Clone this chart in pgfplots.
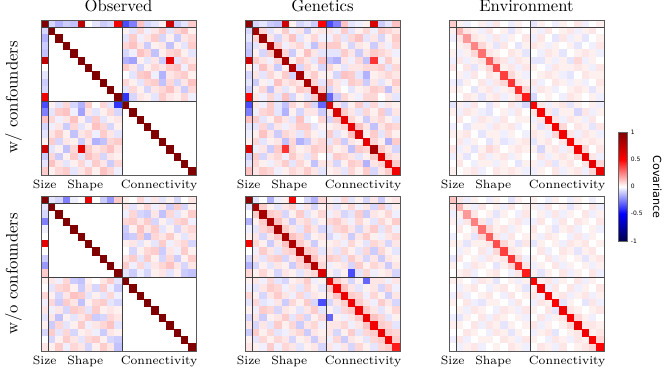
\documentclass[border=0pt]{standalone}
\usepackage{pgfplots}
\pgfplotsset{compat=1.18}
\usepackage{pgfplotstable}
\usepackage{fontspec}
\newfontfamily\dejavu{DejaVu Sans}

% covariance matrices, in percent (-100..100)
% index 0 = size, 1-10 = shape, 11-20 = connectivity
% only the lower triangle is read, the upper half is mirrored from it
\pgfplotstableread[header=false]{
100 0 0 0 0 0 0 0 0 0 0 0 0 0 0 0 0 0 0 0 0
-8 100 0 0 0 0 0 0 0 0 0 0 0 0 0 0 0 0 0 0 0
-15 0 100 0 0 0 0 0 0 0 0 0 0 0 0 0 0 0 0 0 0
-10 0 0 100 0 0 0 0 0 0 0 0 0 0 0 0 0 0 0 0 0
-12 0 0 0 100 0 0 0 0 0 0 0 0 0 0 0 0 0 0 0 0
75 0 0 0 0 100 0 0 0 0 0 0 0 0 0 0 0 0 0 0 0
0 0 0 0 0 0 100 0 0 0 0 0 0 0 0 0 0 0 0 0 0
-5 0 0 0 0 0 0 100 0 0 0 0 0 0 0 0 0 0 0 0 0
-10 0 0 0 0 0 0 0 100 0 0 0 0 0 0 0 0 0 0 0 0
-8 0 0 0 0 0 0 0 0 100 0 0 0 0 0 0 0 0 0 0 0
55 0 0 0 0 0 0 0 0 0 100 0 0 0 0 0 0 0 0 0 0
-35 3 -5 8 -8 -15 10 0 8 -5 -40 100 0 0 0 0 0 0 0 0 0
-25 -5 10 12 -3 -18 5 -5 3 8 -8 0 100 0 0 0 0 0 0 0 0
12 8 -3 5 12 3 -8 10 -5 3 5 0 0 100 0 0 0 0 0 0 0
-8 -3 5 -10 8 -5 3 12 8 -8 3 0 0 0 100 0 0 0 0 0 0
-5 5 10 3 -12 5 8 -3 10 5 -5 0 0 0 0 100 0 0 0 0 0
3 10 -8 5 3 -10 5 -15 -12 8 10 0 0 0 0 0 100 0 0 0 0
70 -5 3 -12 8 60 10 5 8 12 5 0 0 0 0 0 0 100 0 0 0
-10 8 -10 3 10 -5 12 8 -8 5 3 0 0 0 0 0 0 0 100 0 0
-5 12 5 -5 3 8 -3 10 5 -10 8 0 0 0 0 0 0 0 0 100 0
10 3 8 10 -5 5 10 3 12 8 -3 0 0 0 0 0 0 0 0 0 100
}\obsA

\pgfplotstableread[header=false]{
95 0 0 0 0 0 0 0 0 0 0 0 0 0 0 0 0 0 0 0 0
-8 85 0 0 0 0 0 0 0 0 0 0 0 0 0 0 0 0 0 0 0
-5 8 88 0 0 0 0 0 0 0 0 0 0 0 0 0 0 0 0 0 0
-10 -5 5 82 0 0 0 0 0 0 0 0 0 0 0 0 0 0 0 0 0
-12 3 -8 10 86 0 0 0 0 0 0 0 0 0 0 0 0 0 0 0 0
70 10 5 -3 8 84 0 0 0 0 0 0 0 0 0 0 0 0 0 0 0
3 -3 12 5 -10 3 80 0 0 0 0 0 0 0 0 0 0 0 0 0 0
-8 5 -5 8 3 10 -8 85 0 0 0 0 0 0 0 0 0 0 0 0 0
-5 -10 3 -3 12 5 8 5 83 0 0 0 0 0 0 0 0 0 0 0 0
-10 3 8 -12 5 -5 3 10 8 78 0 0 0 0 0 0 0 0 0 0 0
50 5 -3 8 -5 12 -8 3 -5 10 80 0 0 0 0 0 0 0 0 0 0
-35 5 -3 10 -5 -12 8 3 10 -8 -30 62 0 0 0 0 0 0 0 0 0
-25 -3 8 10 -5 -15 3 -8 5 5 -10 5 65 0 0 0 0 0 0 0 0
12 10 -5 3 10 5 -5 12 -3 0 8 -8 10 60 0 0 0 0 0 0 0
-5 -5 8 -8 5 -3 5 10 10 -5 3 3 5 8 58 0 0 0 0 0 0
-3 3 12 5 -10 8 5 -5 8 3 -3 10 -5 3 12 63 0 0 0 0 0
3 8 -5 3 5 -12 8 -15 -10 5 8 -5 8 -10 5 3 60 0 0 0 0
65 -3 5 -10 10 40 8 3 5 10 8 8 3 5 -12 10 8 85 0 0 0
-10 10 -8 5 8 -3 10 5 -5 8 0 -3 10 8 5 -5 3 10 62 0 0
-5 8 3 -3 5 10 -5 8 3 -12 5 5 -8 3 10 8 -15 5 8 58 0
12 5 10 8 -3 3 8 5 10 5 -5 3 5 -5 8 3 10 -8 5 10 55
}\genA

\pgfplotstableread[header=false]{
10 0 0 0 0 0 0 0 0 0 0 0 0 0 0 0 0 0 0 0 0
3 15 0 0 0 0 0 0 0 0 0 0 0 0 0 0 0 0 0 0 0
-3 5 20 0 0 0 0 0 0 0 0 0 0 0 0 0 0 0 0 0 0
0 3 5 24 0 0 0 0 0 0 0 0 0 0 0 0 0 0 0 0 0
3 -3 3 8 28 0 0 0 0 0 0 0 0 0 0 0 0 0 0 0 0
-3 5 -3 3 5 32 0 0 0 0 0 0 0 0 0 0 0 0 0 0 0
5 0 5 -5 3 8 35 0 0 0 0 0 0 0 0 0 0 0 0 0 0
0 3 -3 5 0 5 3 38 0 0 0 0 0 0 0 0 0 0 0 0 0
-3 -5 3 0 5 -3 5 8 40 0 0 0 0 0 0 0 0 0 0 0 0
3 3 0 -5 3 5 -3 3 5 42 0 0 0 0 0 0 0 0 0 0 0
0 0 5 3 -5 3 5 -3 3 8 45 0 0 0 0 0 0 0 0 0 0
-5 3 -3 5 0 -5 3 0 5 -3 -8 50 0 0 0 0 0 0 0 0 0
3 -3 5 3 -3 -5 0 3 -3 5 0 5 52 0 0 0 0 0 0 0 0
0 5 0 -3 5 3 -3 5 0 3 3 -3 5 50 0 0 0 0 0 0 0
-3 0 -5 3 3 -3 5 3 5 -3 0 3 -5 5 55 0 0 0 0 0 0
3 3 5 0 -5 3 3 -3 3 0 -3 5 3 -3 8 55 0 0 0 0 0
0 5 -3 3 0 -5 3 -5 -3 3 5 -5 3 5 0 5 52 0 0 0 0
5 -3 3 -5 3 8 5 0 3 5 3 3 -8 3 5 -3 5 55 0 0 0
-3 3 -5 0 5 -3 3 5 -3 3 0 0 5 -3 3 5 3 8 58 0 0
0 5 0 -3 3 3 -3 3 0 -5 3 3 -3 5 -5 3 5 0 5 60 0
3 0 3 5 -3 0 5 3 5 3 -3 -3 3 0 5 -3 3 5 -3 8 58
}\envA

\pgfplotstableread[header=false]{
100 0 0 0 0 0 0 0 0 0 0 0 0 0 0 0 0 0 0 0 0
-5 100 0 0 0 0 0 0 0 0 0 0 0 0 0 0 0 0 0 0 0
-8 0 100 0 0 0 0 0 0 0 0 0 0 0 0 0 0 0 0 0 0
-25 0 0 100 0 0 0 0 0 0 0 0 0 0 0 0 0 0 0 0 0
-3 0 0 0 100 0 0 0 0 0 0 0 0 0 0 0 0 0 0 0 0
0 0 0 0 0 100 0 0 0 0 0 0 0 0 0 0 0 0 0 0 0
60 0 0 0 0 0 100 0 0 0 0 0 0 0 0 0 0 0 0 0 0
0 0 0 0 0 0 0 100 0 0 0 0 0 0 0 0 0 0 0 0 0
-10 0 0 0 0 0 0 0 100 0 0 0 0 0 0 0 0 0 0 0 0
-20 0 0 0 0 0 0 0 0 100 0 0 0 0 0 0 0 0 0 0 0
10 0 0 0 0 0 0 0 0 0 100 0 0 0 0 0 0 0 0 0 0
3 5 -3 8 -10 -12 3 0 5 10 -5 100 0 0 0 0 0 0 0 0 0
0 -5 8 10 3 -10 5 -8 10 -3 -10 0 100 0 0 0 0 0 0 0 0
8 3 -8 5 12 10 -5 3 -5 8 -3 0 0 100 0 0 0 0 0 0 0
-3 8 -10 10 5 -12 3 8 10 -5 -8 0 0 0 100 0 0 0 0 0 0
5 -3 5 -8 10 8 -5 10 3 5 3 0 0 0 0 100 0 0 0 0 0
-5 5 -12 3 -5 5 10 -10 -8 8 5 0 0 0 0 0 100 0 0 0 0
3 -10 8 -5 3 10 -3 5 8 12 -5 0 0 0 0 0 0 100 0 0 0
-8 10 -5 8 -8 3 5 -3 -10 5 3 0 0 0 0 0 0 0 100 0 0
0 -8 3 10 5 -5 8 10 3 -8 -10 0 0 0 0 0 0 0 0 100 0
5 3 10 -3 8 5 -8 3 10 5 -12 0 0 0 0 0 0 0 0 0 100
}\obsB

\pgfplotstableread[header=false]{
95 0 0 0 0 0 0 0 0 0 0 0 0 0 0 0 0 0 0 0 0
-5 85 0 0 0 0 0 0 0 0 0 0 0 0 0 0 0 0 0 0 0
0 10 85 0 0 0 0 0 0 0 0 0 0 0 0 0 0 0 0 0 0
-15 3 10 82 0 0 0 0 0 0 0 0 0 0 0 0 0 0 0 0 0
-3 -5 8 12 84 0 0 0 0 0 0 0 0 0 0 0 0 0 0 0 0
3 5 -8 5 10 83 0 0 0 0 0 0 0 0 0 0 0 0 0 0 0
55 8 3 -10 5 12 82 0 0 0 0 0 0 0 0 0 0 0 0 0 0
0 -3 10 5 -5 8 10 80 0 0 0 0 0 0 0 0 0 0 0 0 0
-8 5 -5 8 10 -8 5 10 82 0 0 0 0 0 0 0 0 0 0 0 0
-15 -8 3 -5 5 3 -10 8 12 80 0 0 0 0 0 0 0 0 0 0 0
8 3 8 3 -8 5 3 -5 5 8 65 0 0 0 0 0 0 0 0 0 0
3 5 -3 8 -5 -8 3 5 10 -3 3 55 0 0 0 0 0 0 0 0 0
-3 -5 5 10 8 -3 5 -5 8 3 -5 10 55 0 0 0 0 0 0 0 0
8 3 -8 5 10 5 -3 8 -5 5 3 5 12 58 0 0 0 0 0 0 0
-5 8 -5 -3 5 -10 8 3 10 -8 -35 -8 5 10 56 0 0 0 0 0 0
3 -3 10 8 -8 5 3 -5 5 10 -5 3 -5 8 10 55 0 0 0 0 0
-8 5 -10 3 5 10 -5 8 -8 3 8 -30 3 -3 5 10 58 0 0 0 0
5 -8 5 -5 10 3 8 -10 5 8 -3 5 5 8 -3 5 12 55 0 0 0
-10 10 3 8 -5 -3 5 8 -10 5 3 5 -8 3 10 -5 8 10 57 0 0
3 -5 8 3 8 5 -8 3 5 -10 5 -3 8 -10 5 3 -5 8 10 55 0
5 3 -3 10 -3 8 5 -5 3 5 -8 5 -3 5 -8 8 3 -5 8 10 45
}\genB

\pgfplotstableread[header=false]{
12 0 0 0 0 0 0 0 0 0 0 0 0 0 0 0 0 0 0 0 0
5 15 0 0 0 0 0 0 0 0 0 0 0 0 0 0 0 0 0 0 0
-3 3 20 0 0 0 0 0 0 0 0 0 0 0 0 0 0 0 0 0 0
3 -3 5 25 0 0 0 0 0 0 0 0 0 0 0 0 0 0 0 0 0
0 5 0 5 28 0 0 0 0 0 0 0 0 0 0 0 0 0 0 0 0
-3 0 3 -5 8 32 0 0 0 0 0 0 0 0 0 0 0 0 0 0 0
3 3 -5 3 3 5 35 0 0 0 0 0 0 0 0 0 0 0 0 0 0
0 -3 3 0 5 -3 8 38 0 0 0 0 0 0 0 0 0 0 0 0 0
-5 5 0 3 -3 5 3 5 40 0 0 0 0 0 0 0 0 0 0 0 0
3 0 -3 5 3 0 -5 3 8 42 0 0 0 0 0 0 0 0 0 0 0
0 3 5 -3 0 3 5 0 -3 5 45 0 0 0 0 0 0 0 0 0 0
3 3 0 -3 5 3 -5 0 3 -3 3 50 0 0 0 0 0 0 0 0 0
0 -3 3 5 0 -3 3 5 0 3 -5 3 55 0 0 0 0 0 0 0 0
-3 5 -3 0 3 5 0 -3 5 0 3 5 -3 52 0 0 0 0 0 0 0
3 0 5 -3 -5 3 3 0 -3 5 0 -3 5 3 50 0 0 0 0 0 0
0 3 -3 5 3 0 -3 5 3 -3 5 3 0 5 -5 55 0 0 0 0 0
-3 -5 3 0 5 -3 5 3 0 3 -3 0 5 -3 3 5 52 0 0 0 0
3 3 0 5 -3 5 3 -5 3 0 3 5 -3 3 0 3 8 58 0 0 0
0 0 5 3 0 -3 5 3 -5 3 0 -3 3 5 -5 0 3 5 55 0 0
-3 5 -3 0 3 3 0 5 3 -3 5 3 0 -3 5 3 -3 5 3 52 0
0 -3 3 5 -3 0 3 0 5 3 -3 0 5 3 -3 5 0 3 5 8 50
}\envB

\pgfplotsset{
  colormap={seismic}{rgb=(0,0,0.3) rgb=(0,0,1) rgb=(1,1,1) rgb=(1,0,0) rgb=(0.5,0,0)},
  covpanel/.style={
    anchor=north west, scale only axis, width=93pt, height=93pt,
    xmin=-0.5, xmax=20.5, ymin=-0.5, ymax=20.5, y dir=reverse,
    axis on top, clip=false, clip marker paths=true,
    axis line style={black!65, line width=0.6pt},
    xtick=\empty, ytick=\empty,
    colormap name=seismic, point meta min=-100, point meta max=100,
  },
  cell/.style={scatter, only marks, mark=square*, mark size=2.214pt,
    point meta=explicit,
    scatter/use mapped color={draw=mapped color, fill=mapped color}},
}

% one column of cells at a time, lower triangle and its mirror
\newcommand\covcells[1]{%
  \pgfplotsinvokeforeach{0,...,20}{%
    \addplot[cell, skip coords between index={0}{##1}]
      table[x expr=##1, y expr=\coordindex, meta index=##1] {#1};
    \addplot[cell, skip coords between index={0}{##1}]
      table[x expr=\coordindex, y expr=##1, meta index=##1] {#1};
  }%
}
\newcommand\blocks{%
  \draw[black!75, line width=0.6pt] (axis cs:0.5,-0.5) -- (axis cs:0.5,20.5);
  \draw[black!75, line width=0.6pt] (axis cs:10.5,-0.5) -- (axis cs:10.5,20.5);
  \draw[black!75, line width=0.6pt] (axis cs:-0.5,0.5) -- (axis cs:20.5,0.5);
  \draw[black!75, line width=0.6pt] (axis cs:-0.5,10.5) -- (axis cs:20.5,10.5);
  \draw[black!65, line width=0.6pt] (axis cs:-0.5,-0.5) rectangle (axis cs:20.5,20.5);
  \node[font=\fontsize{7.2}{8}\selectfont, anchor=base] at ([yshift=-7.8pt]axis cs:0,20.5) {Size};
  \node[font=\fontsize{7.2}{8}\selectfont, anchor=base] at ([yshift=-7.8pt]axis cs:5.5,20.5) {Shape};
  \node[font=\fontsize{7.2}{8}\selectfont, anchor=base] at ([yshift=-7.8pt]axis cs:15.5,20.5) {Connectivity};
}

\begin{document}
\begin{tikzpicture}
\path[use as bounding box] (0pt,0pt) rectangle (398.4pt,-220.8pt);

\begin{axis}[covpanel, at={(24.6pt,-12pt)}]
  \covcells{\obsA}\blocks
\end{axis}
\begin{axis}[covpanel, at={(147pt,-12pt)}]
  \covcells{\genA}\blocks
\end{axis}
\begin{axis}[covpanel, at={(269.4pt,-12pt)},
  colorbar,
  colorbar style={
    scale only axis, width=5.4pt, height=65.4pt,
    at={([xshift=15pt]parent axis.north east)}, anchor=north west,
    yshift=-67.2pt,
    ytick={-100,-50,0,50,100}, yticklabels={-1,-0.5,0,0.5,1},
    yticklabel style={font=\dejavu\fontsize{3.6}{4}\selectfont, inner sep=1pt, xshift=1pt},
    major tick length=0pt,
    axis line style={black!60, line width=0.4pt},
  }]
  \covcells{\envA}\blocks
\end{axis}

\begin{axis}[covpanel, at={(24.6pt,-117.6pt)}]
  \covcells{\obsB}\blocks
\end{axis}
\begin{axis}[covpanel, at={(147pt,-117.6pt)}]
  \covcells{\genB}\blocks
\end{axis}
\begin{axis}[covpanel, at={(269.4pt,-117.6pt)}]
  \covcells{\envB}\blocks
\end{axis}

\node[anchor=base] at (71.1pt,-7pt) {Observed};
\node[anchor=base] at (193.5pt,-7pt) {Genetics};
\node[anchor=base] at (315.9pt,-7pt) {Environment};
\node[rotate=90, anchor=base] at (10.5pt,-58.5pt) {w/ confounders};
\node[rotate=90, anchor=base] at (10.5pt,-164.1pt) {w/o confounders};
\node[font=\dejavu\fontsize{6.7}{8}\selectfont, rotate=-90] at (394.4pt,-112.2pt) {Covariance};
\end{tikzpicture}
\end{document}
